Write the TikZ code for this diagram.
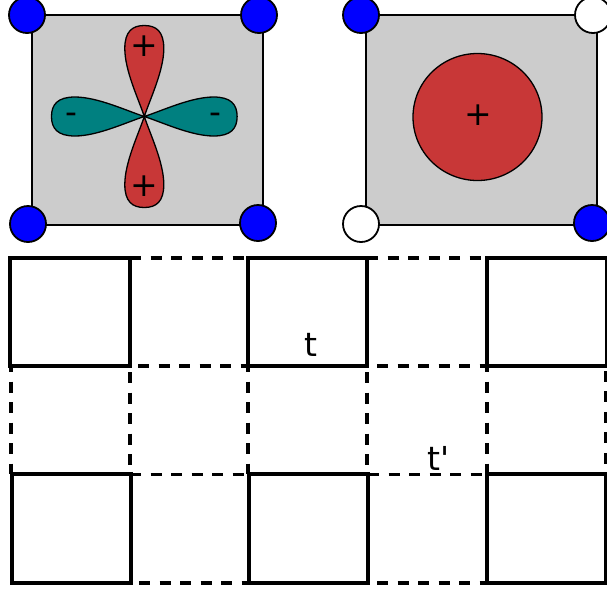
\documentclass[tikz,border=0pt]{standalone}
\usepackage{fontspec}
\setmainfont{DejaVu Sans}
\newfontfamily\labelfont{DejaVu Sans}
\definecolor{panelgrey}{HTML}{CCCCCC}
\definecolor{lobered}{HTML}{C83737}
\definecolor{lobeteal}{HTML}{008080}
\tikzset{
  panel/.style={draw=black,fill=panelgrey,line width=2.4pt},
  site/.style={draw=black,line width=1.8pt},
  lobeshape/.style={draw=black,line width=1.3pt,line join=miter},
  cell/.style={draw=black,line width=3.4pt,line join=miter},
  bond/.style={draw=black,line width=3.4pt,dash pattern=on 11pt off 9.5pt},
  sign/.style={inner sep=0pt,font=\labelfont\fontsize{33pt}{33pt}\selectfont},
}
\newcommand{\lobepath}{(0,0) .. controls (6,-18) and (19.5,-46) .. (19.5,-68) .. controls (19.5,-85) and (12,-91) .. (0,-91) .. controls (-12,-91) and (-19.5,-85) .. (-19.5,-68) .. controls (-19.5,-46) and (-6,-18) .. (0,0) -- cycle}
\begin{document}
\begin{tikzpicture}[x=1pt,y=-1pt]
\useasboundingbox (0,0) rectangle (607,590);
% left panel
\draw[panel] (32,15) rectangle (263,225);
\begin{scope}[shift={(144.3,116.5)}]
  \fill[lobeteal,lobeshape,rotate=90,yscale=1.02] \lobepath;
  \fill[lobeteal,lobeshape,rotate=-90,yscale=1.02] \lobepath;
  \fill[lobered,lobeshape] \lobepath;
  \fill[lobered,lobeshape,rotate=180] \lobepath;
\end{scope}
\draw[site,fill=blue] (27,15) circle (18);
\draw[site,fill=blue] (259,15) circle (18);
\draw[site,fill=blue] (28,224) circle (18);
\draw[site,fill=blue] (258,223) circle (18);
\node[sign] (pa) at (144.5,46) {+};
\node[sign] (pb) at (144.5,186) {+};
\node[sign] (ma) at (71.5,118.5) {-};
\node[sign] (mb) at (215.5,118.5) {-};
% right panel
\draw[panel] (366,15) rectangle (597,225);
\draw[lobeshape,fill=lobered] (477.5,117) ellipse (64.5 and 63.5);
\draw[site,fill=blue] (361,15) circle (18);
\draw[site,fill=white] (593,15) circle (18);
\draw[site,fill=white] (361,224) circle (18);
\draw[site,fill=blue] (592,223) circle (18);
\node[sign] (pc) at (478.5,115) {+};
% lattice: dashed bonds (y, from x, to x, dash phase)
\foreach \ya/\xa/\xb/\ph in {258/130/248/0,258/367/487/0,366/130/248/12.5,366/367/487/10.5,474.5/130/248/0,474.5/368/487/0,583/131/249/12.5,583/368/487/11.5}
  \draw[bond,dash phase=\ph] (\xa,\ya) -- (\xb,\ya);
\foreach \xa/\ph in {11/5,130/14.5,248/5,367/14.5,487/5,606/16}
  \draw[bond,dash phase=\ph] (\xa,366) -- (\xa,474);
% lattice: solid cells
\draw[cell] (10,258) rectangle (130,366);
\draw[cell] (248,258) rectangle (367,366);
\draw[cell] (487,258) rectangle (607,366);
\draw[cell] (12,474) rectangle (131,583);
\draw[cell] (249,474) rectangle (368,583);
\draw[cell] (487,474) rectangle (606,583);
\node[sign] (t) at (310.5,345) {t};
\node[sign] (tp) at (438.5,458) {t'};
\end{tikzpicture}
\end{document}
